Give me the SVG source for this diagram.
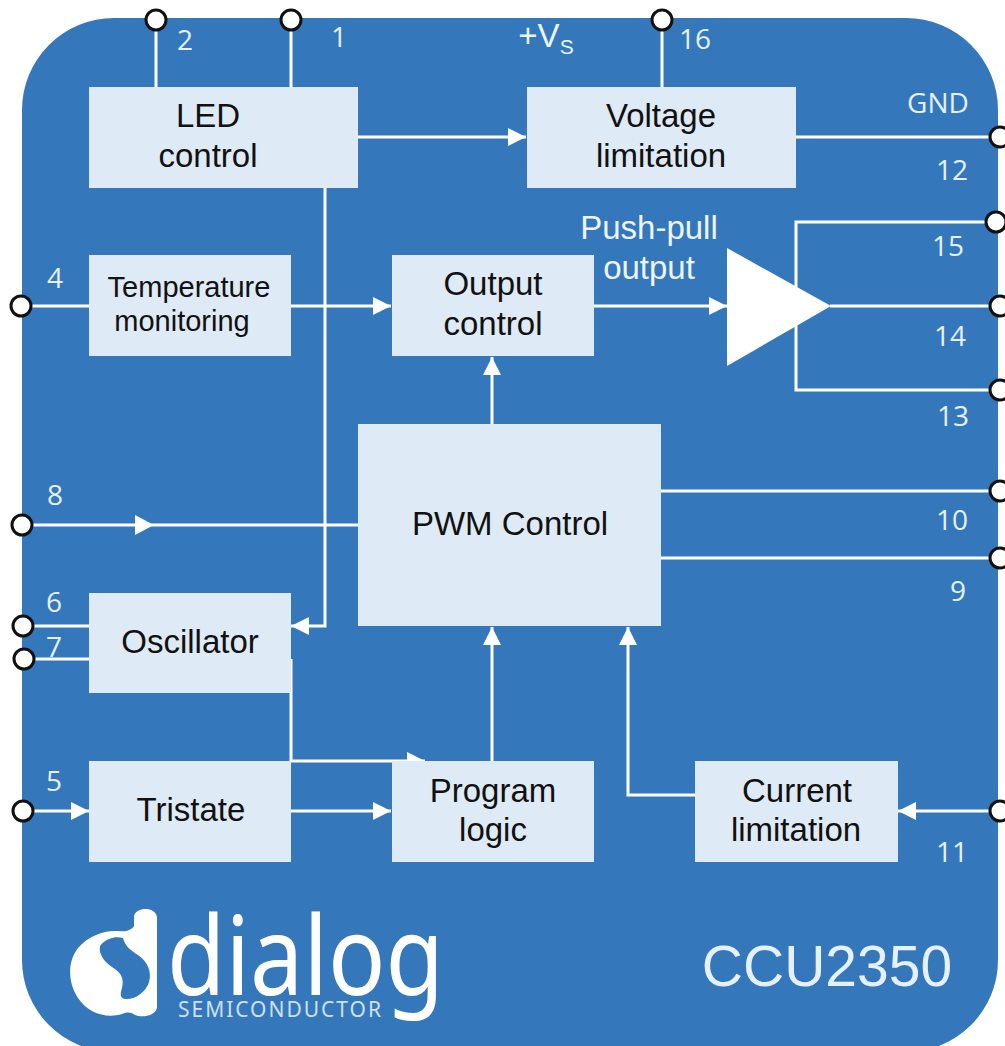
<svg xmlns="http://www.w3.org/2000/svg" width="1005" height="1046" viewBox="0 0 1005 1046">
<defs>
<marker id="arr" markerUnits="userSpaceOnUse" markerWidth="20" markerHeight="18" refX="18" refY="9" orient="auto"><path d="M0 0L18 9L0 18Z" fill="#fff"/></marker>
</defs>
<style>
.box{fill:#deeaf5}
.t{font-family:"Liberation Sans",Arial,sans-serif;font-size:33px;fill:#111;text-anchor:middle}
.s{font-size:29px}
.n{font-family:"Open Sans","Noto Sans",sans-serif;font-size:28px;fill:#e6f0f9;text-anchor:middle}
.w{font-family:"Liberation Sans",Arial,sans-serif;font-size:33px;fill:#eef4fa;text-anchor:middle}
.c{fill:none;stroke:#fff;stroke-width:3}
.a{marker-end:url(#arr)}
.p{fill:#fff;stroke:#111;stroke-width:3}
</style>
<rect width="1005" height="1046" fill="#fff"/>
<rect id="panel" x="22" y="18" width="976" height="1034" rx="92" fill="#3478bb"/>
<g id="connectors">
<path class="c" d="M156 20V87"/><path class="c" d="M291 20V87"/><path class="c" d="M662 20V87"/>
<path class="c a" d="M358 137H526"/>
<path class="c" d="M796 137H996"/>
<path class="c a" d="M325 187V626H291"/>
<path class="c" d="M22 306H89"/>
<path class="c a" d="M291 306H391"/>
<path class="c a" d="M594 306H727"/>
<path class="c" d="M830 306H996"/>
<path class="c" d="M996 222H796V390H996"/>
<path class="c a" d="M492 424V357"/>
<path class="c" d="M661 491H996"/><path class="c" d="M661 558H996"/>
<path class="c" d="M22 525H358"/>
<path d="M135 515L154 525L135 535Z" fill="#fff"/>
<path class="c" d="M22 626H89"/><path class="c" d="M22 659H89"/>
<path class="c a" d="M291 659V761H425"/>
<path class="c a" d="M22 811H89"/>
<path class="c a" d="M291 811H391"/>
<path class="c a" d="M492 761V627"/>
<path class="c a" d="M695 795H628V627"/>
<path class="c a" d="M996 811H898"/>
</g>
<g id="pins">
<circle class="p" cx="156" cy="20" r="10"/><circle class="p" cx="291" cy="20" r="10"/><circle class="p" cx="662" cy="20" r="10"/>
<circle class="p" cx="1000" cy="137" r="10"/><circle class="p" cx="996" cy="222" r="10"/><circle class="p" cx="1000" cy="306" r="10"/><circle class="p" cx="1000" cy="390" r="10"/><circle class="p" cx="1000" cy="491" r="10"/><circle class="p" cx="1000" cy="558" r="10"/><circle class="p" cx="1000" cy="811" r="10"/>
<circle class="p" cx="21" cy="306" r="10"/><circle class="p" cx="22" cy="525" r="10"/><circle class="p" cx="23" cy="626" r="10"/><circle class="p" cx="24" cy="659" r="10"/><circle class="p" cx="23" cy="811" r="10"/>
</g>
<g id="led"><rect class="box" x="89" y="87" width="269" height="101"/><text class="t" x="208" y="127">LED</text><text class="t" x="208" y="167">control</text></g>
<g id="voltage"><rect class="box" x="527" y="87" width="269" height="101"/><text class="t" x="661" y="127">Voltage</text><text class="t" x="661" y="167">limitation</text></g>
<g id="temperature"><rect class="box" x="89" y="255" width="202" height="101"/><text class="t s" x="189" y="297">Temperature</text><text class="t s" x="182" y="331">monitoring</text></g>
<g id="output"><rect class="box" x="392" y="255" width="202" height="101"/><text class="t" x="493" y="295">Output</text><text class="t" x="493" y="335">control</text></g>
<g id="pushpull"><path d="M727 248L831 306L727 366Z" fill="#fff"/></g>
<g id="pwm"><rect class="box" x="358" y="424" width="303" height="202"/><text class="t" x="510" y="535">PWM Control</text></g>
<g id="oscillator"><rect class="box" x="89" y="593" width="202" height="100"/><text class="t" x="190" y="653">Oscillator</text></g>
<g id="tristate"><rect class="box" x="89" y="761" width="202" height="101"/><text class="t" x="191" y="821">Tristate</text></g>
<g id="program"><rect class="box" x="392" y="761" width="202" height="101"/><text class="t" x="493" y="802">Program</text><text class="t" x="493" y="841">logic</text></g>
<g id="current"><rect class="box" x="695" y="761" width="203" height="101"/><text class="t" x="797" y="802">Current</text><text class="t" x="796" y="841">limitation</text></g>
<g id="labels">
<text class="n" x="185" y="50">2</text><text class="n" x="339" y="47">1</text><text class="n" x="695" y="49">16</text>
<text class="w" x="546" y="47">+V<tspan font-size="21" dy="7">S</tspan></text>
<text class="n" x="938" y="113">GND</text><text class="n" x="952" y="180">12</text><text class="n" x="948" y="256">15</text><text class="n" x="950" y="346">14</text><text class="n" x="953" y="426">13</text>
<text class="n" x="952" y="530">10</text><text class="n" x="958" y="601">9</text><text class="n" x="952" y="862">11</text>
<text class="n" x="55" y="288">4</text><text class="n" x="55" y="505">8</text><text class="n" x="54" y="612">6</text><text class="n" x="54" y="657">7</text><text class="n" x="54" y="791">5</text>
<text class="w" x="649" y="239">Push-pull</text><text class="w" x="649" y="279">output</text>
</g>
<g id="logo">
<path fill="#fff" d="M134 916C136 907 155 906 157 917V1008C155 1016 142 1018 135 1015C130 1012 128 1012 122 1014C106 1019 88 1013 78 998C68 983 67 962 78 948C88 936 104 930 118 931C126 932 132 930 134 926Z"/>
<path fill="#3478bb" d="M100 946C106 938 116 936 123 938C125 946 130 950 138 955C148 962 152 972 149 982C146 992 135 1000 125 999C120 998 120 994 122 988C124 980 122 974 115 969C107 964 98 956 100 946Z"/>
<text x="167" y="995" font-family="Noto Sans,Roboto,sans-serif" font-size="110" fill="#fff" textLength="277" lengthAdjust="spacingAndGlyphs">dialog</text>
<text x="178" y="1017" font-family="Noto Sans,Open Sans,sans-serif" font-size="21" fill="#cfe0f0" textLength="203">SEMICONDUCTOR</text>
<text x="827" y="986" font-family="Liberation Sans,Arial,sans-serif" font-size="57" fill="#e6f0f9" text-anchor="middle">CCU2350</text>
</g>
</svg>
